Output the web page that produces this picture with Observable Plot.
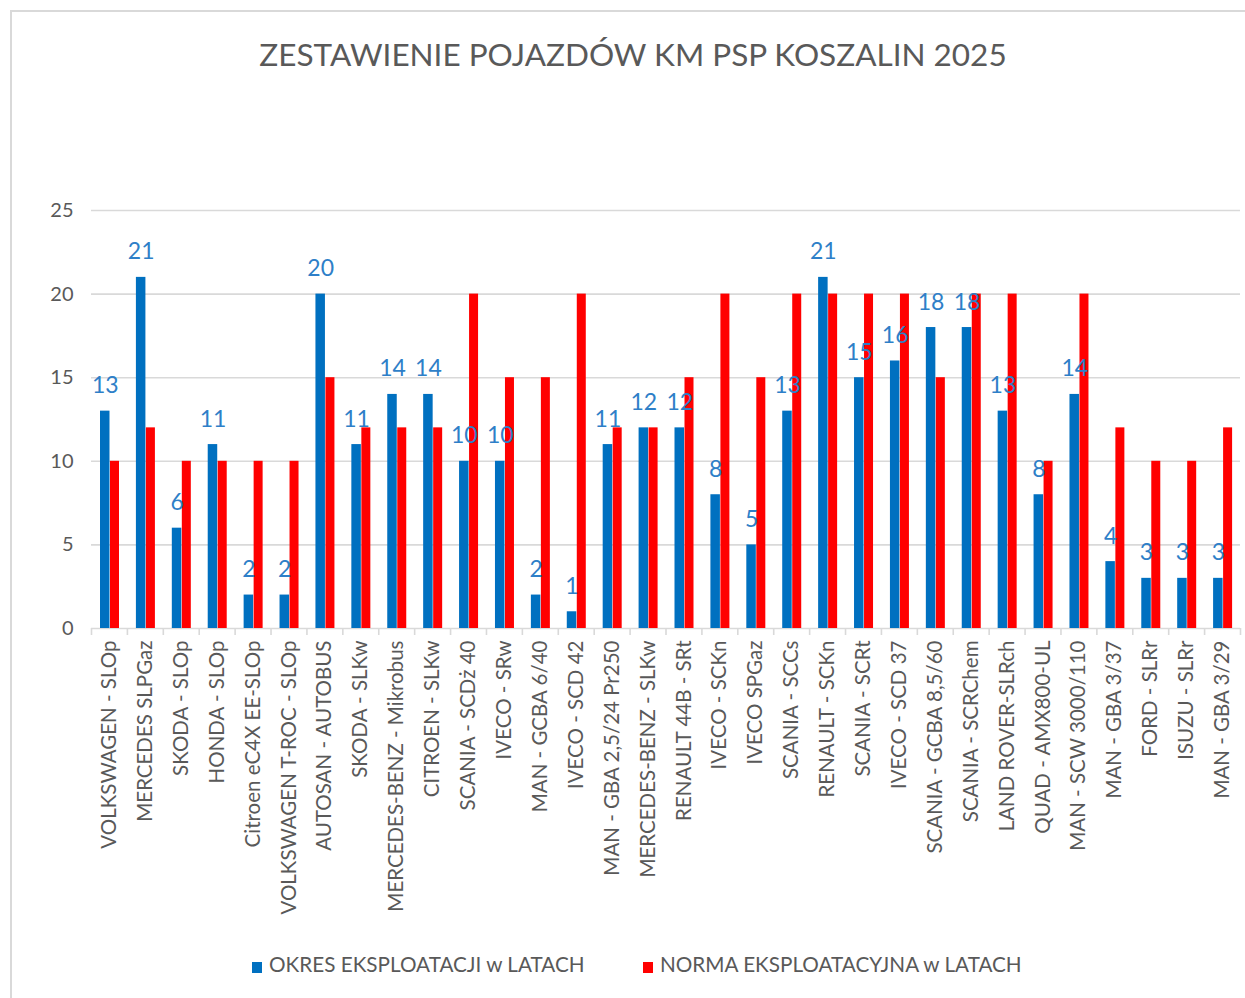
<!DOCTYPE html>
<html><head><meta charset="utf-8">
<script src="https://cdn.jsdelivr.net/npm/d3@7"></script>
<script src="https://cdn.jsdelivr.net/npm/@observablehq/plot@0.6"></script>
<style>
html,body{margin:0;padding:0;background:#fff;}
body{width:1245px;height:998px;position:relative;overflow:hidden;font-family:Lato,"Open Sans",sans-serif;}
#frame{position:absolute;left:10px;top:10px;width:1250px;height:1000px;border:2px solid #d9d9d9;box-sizing:border-box;}
#title{position:absolute;left:10px;width:1246px;top:35px;text-align:center;font-size:31.5px;color:#595959;}
#chart{position:absolute;left:0;top:0;}
.leg{position:absolute;top:952px;font-size:20.7px;color:#595959;white-space:nowrap;}
.sw{display:inline-block;width:10px;height:11px;margin-right:7px;vertical-align:-1px;}
</style></head>
<body>
<div id="frame"></div>
<div id="title">ZESTAWIENIE POJAZDÓW KM PSP KOSZALIN 2025</div>
<div id="chart"></div>
<div class="leg" id="leg1" style="left:252px"><span class="sw" style="background:#0070C0"></span>OKRES EKSPLOATACJI w LATACH</div>
<div class="leg" id="leg2" style="left:643px"><span class="sw" style="background:#FF0000"></span>NORMA EKSPLOATACYJNA w LATACH</div>
<script>
const categories = [
  "VOLKSWAGEN - SLOp","MERCEDES SLPGaz","SKODA - SLOp","HONDA - SLOp","Citroen eC4X EE-SLOp",
  "VOLKSWAGEN T-ROC - SLOp","AUTOSAN - AUTOBUS","SKODA - SLKw","MERCEDES-BENZ - Mikrobus","CITROEN - SLKw",
  "SCANIA - SCDż 40","IVECO - SRw","MAN - GCBA 6/40","IVECO - SCD 42","MAN - GBA 2,5/24 Pr250",
  "MERCEDES-BENZ - SLKw","RENAULT 44B - SRt","IVECO - SCKn","IVECO SPGaz","SCANIA - SCCs",
  "RENAULT - SCKn","SCANIA - SCRt","IVECO - SCD 37","SCANIA - GCBA 8,5/60","SCANIA - SCRChem",
  "LAND ROVER-SLRch","QUAD - AMX800-UL","MAN - SCW 3000/110","MAN - GBA 3/37","FORD - SLRr",
  "ISUZU - SLRr","MAN - GBA 3/29"
];
const okres = [13,21,6,11,2,2,20,11,14,14,10,10,2,1,11,12,12,8,5,13,21,15,16,18,18,13,8,14,4,3,3,3];
const norma = [10,12,10,10,10,10,15,12,12,12,20,15,15,20,12,12,15,20,15,20,20,20,20,15,20,20,10,20,12,10,10,12];
const yTicks = [0,5,10,15,20,25];
const seriesNames = ["OKRES EKSPLOATACJI w LATACH","NORMA EKSPLOATACYJNA w LATACH"];

const rows = categories.map((c,i)=>({cat:c, okres:okres[i], norma:norma[i]}));
const bw = (1240-91)/categories.length;
const BLUE="#0070C0", RED="#FF0000", GRAY="#595959", GRID="#D9D9D9";

const chart = Plot.plot({
  width:1245, height:998,
  marginLeft:91, marginRight:5, marginTop:210, marginBottom:370,
  style:{fontFamily:"Lato, 'Open Sans', sans-serif", color:GRAY, background:"transparent", overflow:"visible"},
  x:{type:"band", domain:categories, padding:0, round:false, label:null},
  y:{domain:[0,25], ticks:yTicks, label:null},
  marks:[
    Plot.ruleY(yTicks, {stroke:GRID, strokeWidth:1.6}),
    Plot.ruleX(categories, {x:d=>d, dx:-bw/2, y1:0, y2:-0.42, stroke:GRID, strokeWidth:1.6}),
    Plot.ruleX([categories[categories.length-1]], {x:d=>d, dx:bw/2, y1:0, y2:-0.42, stroke:GRID, strokeWidth:1.6}),
    Plot.barY(rows, {x:"cat", y:"okres", fill:BLUE, insetLeft:9, insetRight:bw-18.5}),
    Plot.barY(rows, {x:"cat", y:"norma", fill:RED, insetLeft:19, insetRight:bw-28}),
    Plot.text(rows, {x:"cat", y:"okres", text:d=>String(d.okres), dx:-4.2, dy:-18, lineAnchor:"bottom", fill:"#2E7FC8", fontSize:23}),
    Plot.axisY({ticks:yTicks, tickSize:0, tickPadding:18, fontSize:20, fill:GRAY}),
    Plot.axisX({tickSize:0, tickPadding:12, tickRotate:-90, fontSize:20.5, fill:GRAY})
  ]
});
document.getElementById("chart").appendChild(chart);
</script>
</body></html>
